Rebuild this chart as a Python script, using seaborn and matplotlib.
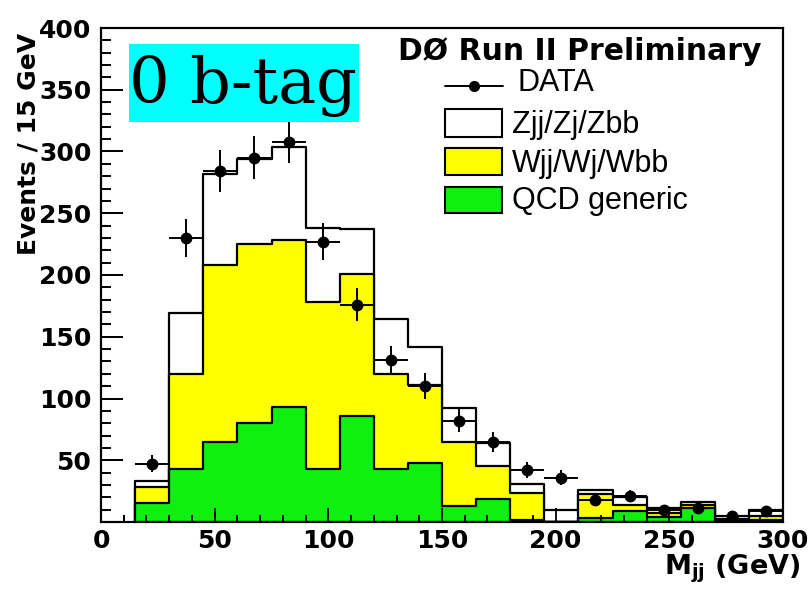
import numpy as np
import pandas as pd
import matplotlib
matplotlib.use("Agg")
import matplotlib.pyplot as plt
from matplotlib.patches import Rectangle
from matplotlib.lines import Line2D
import seaborn as sns

# ---------------- data ----------------
bin_edges = [15, 30, 45, 60, 75, 90, 105, 120, 135, 150, 165, 180, 195, 210, 225, 240, 255, 270, 285, 300]
qcd_generic = [15, 43, 65, 80, 93, 43, 86, 43, 48, 13, 19, 2, 0, 3, 9, 4, 11.5, 1, 2]
wjj_wj_wbb = [13, 77, 143, 145, 135, 135, 115, 77, 63, 52, 26.5, 21.5, 0, 19.5, 4.8, 3.5, 2.5, 1.8, 3]
zjj_zj_zbb = [5, 49, 74, 69, 76, 60, 36, 44, 31, 27, 18.5, 7.5, 10, 3.5, 6.2, 3.5, 2, 2.2, 4.6]
data_counts = [47, 230, 284, 295, 308, 227, 176, 131, 110, 82, 65, 42, 36, 18, 21, 10, 11, 4.5, 9]
data_errors = [6.9, 15.2, 16.9, 17.2, 17.5, 15.1, 13.3, 11.4, 10.5, 9.1, 8.1, 6.5, 6.0, 4.2, 4.6, 3.2, 3.3, 2.1, 3.0]
x_ticks = [0, 50, 100, 150, 200, 250, 300]
y_ticks = [0, 50, 100, 150, 200, 250, 300, 350, 400]

edges = np.array(bin_edges, dtype=float)
centers = (edges[:-1] + edges[1:]) / 2
halfw = (edges[1:] - edges[:-1]) / 2
qcd = np.array(qcd_generic)
w_cum = qcd + np.array(wjj_wj_wbb)
tot = w_cum + np.array(zjj_zj_zbb)

df = pd.DataFrame({"mjj": centers, "qcd": qcd, "wcum": w_cum, "tot": tot})

YELLOW = "#ffff00"
GREEN = "#10f010"

sns.set_style("white")
plt.rcParams["font.family"] = ["DejaVu Sans"]
plt.rcParams["text.color"] = "black"
plt.rcParams["axes.labelcolor"] = "black"
plt.rcParams["xtick.color"] = "black"
plt.rcParams["ytick.color"] = "black"

W, H = 810, 593
fig = plt.figure(figsize=(8.1, 5.93), dpi=100)
fx = lambda px: px / W
fy = lambda py: 1 - py / H
rect = [fx(101), fy(522), fx(783) - fx(101), fy(28) - fy(522)]
ax = fig.add_axes(rect)

lw = 1.6
for col, color in [("tot", "white"), ("wcum", YELLOW), ("qcd", GREEN)]:
    sns.histplot(data=df, x="mjj", weights=col, bins=list(bin_edges), element="step",
                 fill=True, color=color, facecolor=color, edgecolor="black",
                 linewidth=lw, alpha=1, ax=ax)

ax.errorbar(df["mjj"], data_counts, yerr=data_errors, xerr=halfw, fmt="o",
            color="black", ms=7.5, elinewidth=1.4, capsize=0, zorder=10)


def style_axes(a, labels):
    a.set_xlim(0, 300)
    a.set_ylim(0, 400)
    a.set_xticks(x_ticks)
    a.set_yticks(y_ticks)
    a.set_xticks(np.arange(0, 301, 10), minor=True)
    a.set_yticks(np.arange(0, 401, 10), minor=True)
    a.tick_params(axis="both", which="both", direction="in", color="black",
                  labelcolor="black", width=1.3, labelsize=18,
                  bottom=True, left=True, top=False, right=False,
                  labelbottom=labels, labelleft=labels)
    a.tick_params(axis="y", which="major", length=16, pad=7)
    a.tick_params(axis="y", which="minor", length=7.5)
    a.tick_params(axis="x", which="major", length=10, pad=5)
    a.tick_params(axis="x", which="minor", length=5)
    for s in a.spines.values():
        s.set_linewidth(1.5)
        s.set_color("black")
        s.set_visible(True)


style_axes(ax, True)
ax.set_xticklabels([str(v) for v in x_ticks])
ax.set_yticklabels([""] + [str(v) for v in y_ticks[1:]])
for lab in ax.get_xticklabels() + ax.get_yticklabels():
    lab.set_fontweight("bold")

# transparent overlay so the inward ticks sit on top of the filled histograms
ax_ticks = fig.add_axes(rect, facecolor="none")
style_axes(ax_ticks, False)
ax_ticks.set_zorder(ax.get_zorder() + 1)

ax.set_ylabel("Events / 15 GeV", fontsize=18, fontweight="bold", loc="top", color="black")
ax.yaxis.set_label_coords(-0.088, 0.99)
ax.set_xlabel(r"M$_{\mathbf{jj}}$ (GeV)", fontsize=19.5, fontweight="bold", loc="right", color="black")
ax.xaxis.set_label_coords(1.025, -0.062)

# "0 b-tag" box
fig.add_artist(Rectangle((fx(129), fy(122)), fx(359) - fx(129), fy(44) - fy(122),
                         transform=fig.transFigure, facecolor="#00ffff", edgecolor="none", zorder=20))
fig.text(fx(129), fy(103), "0 b-tag", fontsize=46, family="DejaVu Serif",
         ha="left", va="baseline", zorder=21, color="black")

# legend
fig.text(fx(398), fy(60), "DØ Run II Preliminary", fontsize=21.5, fontweight="bold",
         ha="left", va="baseline", color="black")
fig.add_artist(Line2D([fx(445), fx(503)], [fy(86), fy(86)], transform=fig.transFigure,
                      color="black", lw=1.4))
fig.add_artist(Line2D([fx(474)], [fy(86)], transform=fig.transFigure, marker="o",
                      color="black", ms=7))
lfont = dict(fontsize=22, family="Liberation Sans", ha="left", va="baseline", color="black")
fig.text(fx(517), fy(91), "DATA", **lfont)
for (top, bot, color, label, base) in [(109, 137, "white", "Zjj/Zj/Zbb", 133),
                                       (148, 175, YELLOW, "Wjj/Wj/Wbb", 172),
                                       (187, 213, GREEN, "QCD generic", 209)]:
    fig.add_artist(Rectangle((fx(445), fy(bot)), fx(502) - fx(445), fy(top) - fy(bot),
                             transform=fig.transFigure, facecolor=color,
                             edgecolor="black", lw=1.5))
    fig.text(fx(512), fy(base), label, **lfont)

fig.savefig("out.png", dpi=100)
